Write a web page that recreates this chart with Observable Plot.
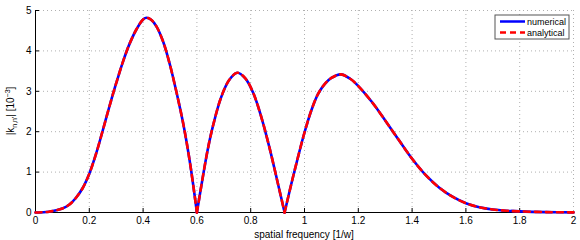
<!DOCTYPE html>
<html>
<head>
<meta charset="utf-8">
<script src="https://cdn.jsdelivr.net/npm/d3@7"></script>
<script src="https://cdn.jsdelivr.net/npm/@observablehq/plot@0.6"></script>
<style>
  html, body { margin: 0; padding: 0; background: #fff; }
  svg { display: block; }
</style>
</head>
<body>
<div id="chart"></div>
<script>
// ---- data ----
const lobe1X = [0, 0.05, 0.1, 0.125, 0.15, 0.175, 0.2, 0.225, 0.25, 0.275, 0.3, 0.325, 0.35, 0.375, 0.4, 0.413, 0.43, 0.45, 0.475, 0.5, 0.525, 0.55, 0.575, 0.6];
const lobe1Y = [0, 0.02, 0.1, 0.19, 0.36, 0.6, 0.96, 1.45, 2.03, 2.63, 3.2, 3.73, 4.18, 4.53, 4.78, 4.82, 4.77, 4.6, 4.22, 3.65, 2.95, 2.17, 1.2, 0];
const lobe2X = [0.6, 0.62, 0.64, 0.66, 0.69, 0.72, 0.75, 0.78, 0.81, 0.84, 0.87, 0.9, 0.926];
const lobe2Y = [0, 0.8, 1.55, 2.15, 2.85, 3.28, 3.46, 3.32, 2.95, 2.35, 1.6, 0.75, 0];
const lobe3X = [0.926, 0.95, 0.975, 1.0, 1.025, 1.05, 1.075, 1.1, 1.135, 1.17, 1.2, 1.25, 1.3, 1.35, 1.4, 1.45, 1.5, 1.55, 1.6, 1.65, 1.7, 1.75, 1.8, 1.9, 2.0];
const lobe3Y = [0, 0.68, 1.35, 1.98, 2.52, 2.93, 3.18, 3.33, 3.42, 3.31, 3.13, 2.74, 2.28, 1.8, 1.33, 0.93, 0.62, 0.39, 0.23, 0.13, 0.075, 0.045, 0.028, 0.01, 0.003];
const xTicks = [0, 0.2, 0.4, 0.6, 0.8, 1, 1.2, 1.4, 1.6, 1.8, 2];
const yTicks = [0, 1, 2, 3, 4, 5];
const seriesNames = ["numerical", "analytical"];
const xLabel = "spatial frequency [1/w]";

const rows = [];
[[lobe1X, lobe1Y], [lobe2X, lobe2Y], [lobe3X, lobe3Y]].forEach(([xs, ys], i) => {
  xs.forEach((x, j) => rows.push({x, y: ys[j], lobe: i}));
});

const W = 580, H = 240;
const FONT = "'Liberation Sans', Arial, Helvetica, sans-serif";
const mT = 10, mB = 28, mL = 35, mR = 7;
const frameH = H - mT - mB, frameW = W - mL - mR;

const fmt = d => String(d);

const plot = Plot.plot({
  width: W, height: H,
  marginTop: mT, marginBottom: mB, marginLeft: mL, marginRight: mR,
  style: {fontFamily: FONT, fontSize: "10px", color: "#000", background: "#fff"},
  x: {domain: [0, 2]},
  y: {domain: [0, 5]},
  marks: [
    Plot.ruleX(xTicks.slice(1), {stroke: "#b0b0b0", strokeDasharray: "1,3", strokeWidth: 1}),
    Plot.ruleY(yTicks.slice(1), {stroke: "#b0b0b0", strokeDasharray: "1,3", strokeWidth: 1}),
    Plot.tickX(xTicks.slice(1, -1), {stroke: "#000", insetTop: frameH - 4}),
    Plot.tickY(yTicks.slice(1), {stroke: "#000", insetRight: frameW - 4}),
    Plot.axisX({ticks: xTicks, tickSize: 0, tickPadding: 4, tickFormat: fmt, label: null, fontSize: 10}),
    Plot.axisY({ticks: yTicks, tickSize: 0, tickPadding: 4, tickFormat: fmt, label: null, fontSize: 10}),
    Plot.ruleX([0], {stroke: "#000"}),
    Plot.ruleY([0], {stroke: "#000"}),
    Plot.line(rows, {x: "x", y: "y", z: "lobe", curve: "catmull-rom", stroke: "#0000ff", strokeWidth: 2.6}),
    Plot.line(rows, {x: "x", y: "y", z: "lobe", curve: "catmull-rom", stroke: "#ff0000", strokeWidth: 2.6, strokeDasharray: "6,5"}),
  ]
});

document.getElementById("chart").appendChild(plot);
const svg = d3.select(plot);

// x axis title
svg.append("text")
  .attr("x", mL + frameW / 2).attr("y", H - 2)
  .attr("text-anchor", "middle")
  .attr("font-family", FONT).attr("font-size", 10)
  .text(xLabel);

// y axis title with subscript/superscript
const yl = svg.append("text")
  .attr("transform", `translate(14, ${mT + frameH / 2}) rotate(-90)`)
  .attr("text-anchor", "middle")
  .attr("font-family", FONT).attr("font-size", 10);
yl.append("tspan").text("|k");
yl.append("tspan").attr("dy", 3).attr("font-size", 7).text("n,n'");
yl.append("tspan").attr("dy", -3).text("| [10");
yl.append("tspan").attr("dy", -4).attr("font-size", 7).text("−3");
yl.append("tspan").attr("dy", 4).text("]");

// legend
const lg = svg.append("g").attr("transform", "translate(495, 15)");
lg.append("rect").attr("width", 74).attr("height", 24)
  .attr("fill", "#fff").attr("stroke", "#555").attr("stroke-width", 1);
const styles = [{stroke: "#0000ff", dash: null}, {stroke: "#ff0000", dash: "6,4"}];
seriesNames.forEach((name, i) => {
  const y = 6.5 + i * 11;
  lg.append("line").attr("x1", 5).attr("x2", 30).attr("y1", y).attr("y2", y)
    .attr("stroke", styles[i].stroke).attr("stroke-width", 2.5)
    .attr("stroke-dasharray", styles[i].dash);
  lg.append("text").attr("x", 32).attr("y", y + 3.2)
    .attr("text-anchor", "start")
    .attr("font-family", FONT).attr("font-size", 9).text(name);
});
</script>
</body>
</html>
